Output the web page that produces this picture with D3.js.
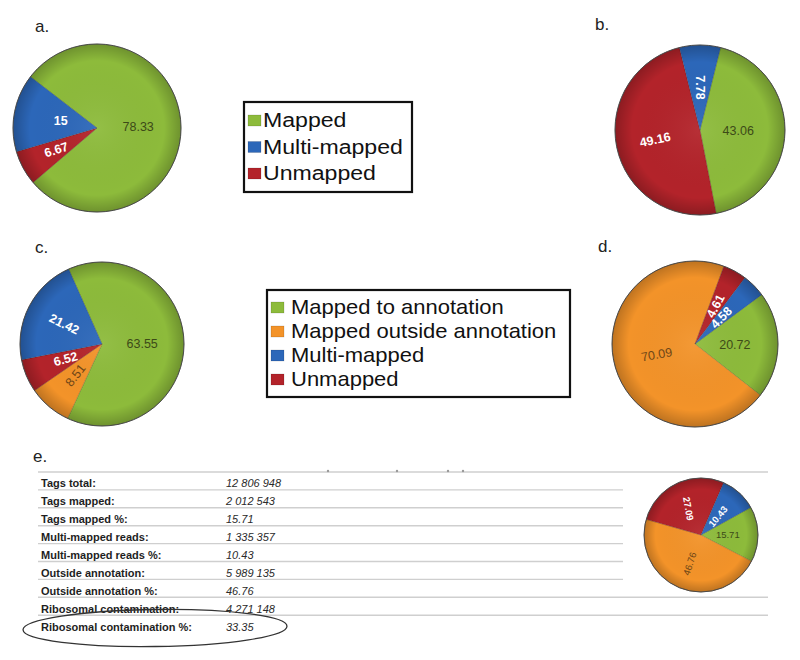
<!DOCTYPE html>
<html>
<head>
<meta charset="utf-8">
<script src="https://cdn.jsdelivr.net/npm/d3@7"></script>
<style>
  html, body { margin: 0; padding: 0; background: #fff; }
  svg { display: block; font-family: "Liberation Sans", Arial, sans-serif; }
</style>
</head>
<body>
<svg id="chart" width="800" height="660"></svg>
<script>
// ---------------- DATA ----------------
const legendAB = ["Mapped", "Multi-mapped", "Unmapped"];
const legendCD = ["Mapped to annotation", "Mapped outside annotation", "Multi-mapped", "Unmapped"];

// slice order (clockwise) for the three-class pies a, b
const sliceOrder3 = ["Mapped", "Unmapped", "Multi-mapped"];
const valuesA = [78.33, 6.67, 15];
const valuesB = [43.06, 49.16, 7.78];

// slice order (clockwise) for the four-class pies c, d, e
const sliceOrder4 = ["Mapped to annotation", "Mapped outside annotation", "Unmapped", "Multi-mapped"];
const valuesC = [63.55, 8.51, 6.52, 21.42];
const valuesD = [20.72, 70.09, 4.61, 4.58];
const valuesE = [15.71, 46.76, 27.09, 10.43];

const tableLabels = [
  "Tags total:", "Tags mapped:", "Tags mapped %:", "Multi-mapped reads:",
  "Multi-mapped reads %:", "Outside annotation:", "Outside annotation %:",
  "Ribosomal contamination:", "Ribosomal contamination %:"
];
const tableValues = [
  "12 806 948", "2 012 543", "15.71", "1 335 357", "10.43",
  "5 989 135", "46.76", "4 271 148", "33.35"
];

// ---------------- STYLE ----------------
const colorOf = {
  "Mapped": "#8dbb3b",
  "Mapped to annotation": "#8dbb3b",
  "Mapped outside annotation": "#f39329",
  "Multi-mapped": "#2c67b9",
  "Unmapped": "#b3232a"
};
const labelInk = {
  "Mapped": "#3d4a18",
  "Mapped to annotation": "#3d4a18",
  "Mapped outside annotation": "#6e4617",
  "Multi-mapped": "#ffffff",
  "Unmapped": "#ffffff"
};

const svg = d3.select("#chart");
const defs = svg.append("defs");
const grad = defs.append("radialGradient").attr("id", "shade");
grad.append("stop").attr("offset", "0%").attr("stop-color", "#fff").attr("stop-opacity", 0.06);
grad.append("stop").attr("offset", "80%").attr("stop-color", "#000").attr("stop-opacity", 0.0);
grad.append("stop").attr("offset", "100%").attr("stop-color", "#000").attr("stop-opacity", 0.22);

function drawPie(cfg) {
  const g = svg.append("g").attr("transform", `translate(${cfg.cx},${cfg.cy})`);
  const s = cfg.startDeg * Math.PI / 180;
  const pie = d3.pie().sort(null).value(d => d.v).startAngle(s).endAngle(s + 2 * Math.PI);
  const data = cfg.values.map((v, i) => ({ v, k: cfg.order[i] }));
  const arcs = pie(data);
  const arc = d3.arc().innerRadius(0).outerRadius(cfg.r);
  g.selectAll("path.slice").data(arcs).join("path")
    .attr("class", "slice")
    .attr("d", arc)
    .attr("fill", d => colorOf[d.data.k])
    .attr("stroke", "rgba(0,0,0,0.25)")
    .attr("stroke-width", 0.6);
  g.append("circle").attr("r", cfg.r).attr("fill", "url(#shade)")
    .attr("stroke", "#4a4a4a").attr("stroke-width", 1);
  g.selectAll("text.lbl").data(arcs).join("text")
    .attr("class", "lbl")
    .attr("transform", (d, i) => {
      const lr = cfg.r * cfg.lab[i][0];
      const c = d3.arc().innerRadius(lr).outerRadius(lr).centroid(d);
      return `translate(${c[0]},${c[1]}) rotate(${cfg.lab[i][1]})`;
    })
    .attr("text-anchor", "middle")
    .attr("dominant-baseline", "central")
    .attr("font-size", cfg.fs)
    .attr("font-weight", d => labelInk[d.data.k] === "#ffffff" ? "bold" : "normal")
    .attr("fill", d => labelInk[d.data.k])
    .text(d => String(d.data.v));
}

drawPie({ cx: 97, cy: 128, r: 84, startDeg: -52.4, order: sliceOrder3, values: valuesA, fs: 12.5,
  lab: [[0.49, 0], [0.55, -18], [0.44, 0]] });
drawPie({ cx: 700, cy: 130, r: 85, startDeg: 14, order: sliceOrder3, values: valuesB, fs: 12.5,
  lab: [[0.45, 0], [0.54, -12], [0.5, 90]] });
drawPie({ cx: 102, cy: 344, r: 82, startDeg: -24, order: sliceOrder4, values: valuesC, fs: 12.5,
  lab: [[0.49, 0], [0.5, -52], [0.48, -15], [0.52, 26]] });
drawPie({ cx: 695, cy: 344, r: 83, startDeg: 53.5, order: sliceOrder4, values: valuesD, fs: 12.5,
  lab: [[0.48, 0], [0.48, -10], [0.52, -62], [0.45, -45]] });
drawPie({ cx: 701, cy: 535, r: 57, startDeg: 61, order: sliceOrder4, values: valuesE, fs: 9.5,
  lab: [[0.47, 0], [0.54, -72], [0.51, 80], [0.44, -50]] });

// panel letters
const letters = [["a.", 35, 32], ["b.", 595, 30], ["c.", 35, 253], ["d.", 598, 252], ["e.", 33, 462]];
svg.selectAll("text.letter").data(letters).join("text")
  .attr("class", "letter")
  .attr("x", d => d[1]).attr("y", d => d[2])
  .attr("font-size", 17).attr("fill", "#222")
  .text(d => d[0]);

// legends
function drawLegend(items, box, tx, base0, step, fs, sx, sq) {
  svg.append("rect").attr("x", box[0]).attr("y", box[1]).attr("width", box[2]).attr("height", box[3])
    .attr("fill", "#fff").attr("stroke", "#111").attr("stroke-width", 2.2);
  items.forEach((name, i) => {
    const by = base0 + i * step;
    svg.append("rect").attr("x", sq[0]).attr("y", by - sq[2] - 1).attr("width", sq[1]).attr("height", sq[2])
      .attr("fill", colorOf[name]).attr("stroke", "rgba(0,0,0,0.25)").attr("stroke-width", 0.5);
    svg.append("text").attr("transform", `translate(${tx},${by}) scale(${sx},1)`)
      .attr("font-size", fs).attr("fill", "#111").text(name);
  });
}
drawLegend(legendAB, [244, 102, 168, 90], 263, 127, 26.5, 21, 1.1, [248, 13, 11]);
drawLegend(legendCD, [267, 290, 303, 107], 291, 314, 24, 20, 1.1, [271, 13, 11]);

// table e
const rowY = d3.scaleLinear().domain([0, 1]).range([472, 489.9]);
const lineRows = d3.range(0, 9);
svg.selectAll("line.row").data(lineRows).join("line")
  .attr("class", "row")
  .attr("x1", 38)
  .attr("x2", d => (d === 0 || d >= 7) ? 768 : 623)
  .attr("y1", d => rowY(d)).attr("y2", d => rowY(d))
  .attr("stroke", "#cfcfcf").attr("stroke-width", 1.4);
// tiny marks on the top line
[328, 397, 448, 463].forEach(x => {
  svg.append("circle").attr("cx", x).attr("cy", 471).attr("r", 1.2).attr("fill", "#999");
});
svg.selectAll("text.tlab").data(tableLabels).join("text")
  .attr("class", "tlab")
  .attr("x", 41).attr("y", (d, i) => rowY(i + 1) - 2.5)
  .attr("font-size", 11).attr("font-weight", "bold").attr("fill", "#1e1e1e")
  .text(d => d);
svg.selectAll("text.tval").data(tableValues).join("text")
  .attr("class", "tval")
  .attr("x", 226).attr("y", (d, i) => rowY(i + 1) - 2.5)
  .attr("font-size", 11).attr("font-style", "italic").attr("fill", "#2a2a2a")
  .text(d => d);

// ellipse around last row
svg.append("ellipse").attr("cx", 155).attr("cy", 628).attr("rx", 132).attr("ry", 18.5)
  .attr("fill", "none").attr("stroke", "#333").attr("stroke-width", 1.3)
  .attr("transform", "rotate(-0.8,155,628)");
</script>
</body>
</html>
